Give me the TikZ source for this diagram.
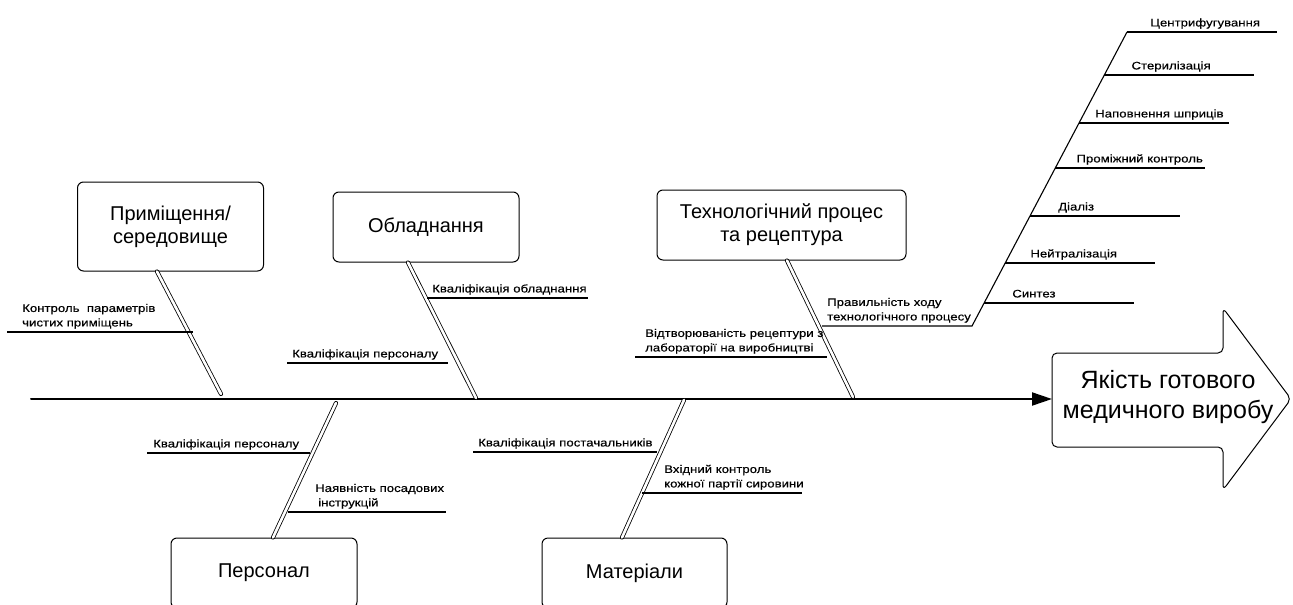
\documentclass[tikz,border=0pt]{standalone}
\usepackage{fontspec}
\setmainfont{Liberation Sans}
\newfontfamily\labfont[FakeStretch=1.2,FakeBold=0.35]{Liberation Sans}
\usetikzlibrary{calc,arrows.meta}
\tikzset{
  cause/.style={draw=black, line width=1pt, rounded corners=6pt, minimum width=186pt, minimum height=70pt, align=center, font=\fontsize{20}{23}\selectfont},
  bone/.style={draw=black, line width=0.8pt, double=white, double distance=2.6pt, line cap=round},
  spine/.style={draw=black, line width=2pt, line cap=round, -{Triangle[length=20pt,width=13pt]}},
  twig/.style={draw=black, line width=1.1pt},
  lab/.style={anchor=south west, inner sep=0pt, align=left, font=\labfont\fontsize{11}{14.5}\selectfont, execute at end node=\strut},
  effect/.style={draw=black, line width=1pt, rounded corners=5pt},
}

\begin{document}
\begin{tikzpicture}[x=1pt, y=-1pt]
  \useasboundingbox (0,0) rectangle (1293,605);
  % causes
  \node[cause, minimum height=89pt] (prim) at (170.5,226.5) {Приміщення/\\середовище};
  \node[cause] (obl) at (426,227) {Обладнання};
  \node[cause, minimum width=249pt] (tech) at (781.5,225) {Технологічний процес\\та рецептура};
  \node[cause] (pers) at (264,573) {Персонал};
  \node[cause, minimum width=185pt] (mat) at (634.5,573) {Матеріали};
  % effect arrow
  \coordinate (tail) at (31,399);
  \coordinate (gin) at (1052,399);
  \draw[effect] (gin) -- (1052,353) -- (1223,353) -- (1223,308) -- (1291,399)
    -- (1223,490) -- (1223,447) -- (1052,447) -- cycle;
  \node[font=\fontsize{25}{30}\selectfont, align=center] (goal) at (1168,397) {Якість готового\\медичного виробу};
  \draw[spine] (tail) -- (gin);
  % bones
  \coordinate (sp1) at (221,394);
  \coordinate (sp2) at (476,398);
  \coordinate (sp3) at (853,397);
  \coordinate (sp4) at (336,403);
  \coordinate (sp5) at (684,400);
  \draw[bone] ([xshift=-13.5]prim.south) -- (sp1);
  \draw[bone] ([xshift=-18]obl.south) -- (sp2);
  \draw[bone] ([xshift=5.5]tech.south) -- (sp3);
  \draw[bone] ([xshift=9]pers.north) -- (sp4);
  \draw[bone] ([xshift=-12.5]mat.north) -- (sp5);
  % sub-causes
  \coordinate (t1) at (7,332);
  \draw[twig] (t1) -- ++(186,0);
  \node[lab] (l1) at ([shift={(15,-1)}]t1) {Контроль\ \ параметрів\\чистих приміщень};
  \coordinate (t2) at (427,298);
  \draw[twig] (t2) -- ++(161,0);
  \node[lab] (l2) at ([shift={(5,-1)}]t2) {Кваліфікація обладнання};
  \coordinate (t3) at (287,363);
  \draw[twig] (t3) -- ++(161,0);
  \node[lab] (l3) at ([shift={(5,-1)}]t3) {Кваліфікація персоналу};
  \coordinate (t4) at (635,357);
  \draw[twig] (t4) -- ++(192,0);
  \node[lab] (l4) at ([shift={(10,-1)}]t4) {Відтворюваність рецептури з\\лабораторії на виробництві};
  \coordinate (t6) at (147,453);
  \draw[twig] (t6) -- ++(163,0);
  \node[lab] (l6) at ([shift={(6,-1)}]t6) {Кваліфікація персоналу};
  \coordinate (t7) at (288,512);
  \draw[twig] (t7) -- ++(158,0);
  \node[lab] (l7) at ([shift={(27,-1)}]t7) {Наявність посадових\\\hspace{3pt}інструкцій};
  \coordinate (t8) at (473,452);
  \draw[twig] (t8) -- ++(184,0);
  \node[lab] (l8) at ([shift={(5,-1)}]t8) {Кваліфікація постачальників};
  \coordinate (t9) at (642,493);
  \draw[twig] (t9) -- ++(160,0);
  \node[lab] (l9) at ([shift={(22,-1)}]t9) {Вхідний контроль\\кожної партії сировини};
  % process steps
  \coordinate (fl1) at (822,326);
  \coordinate (fl2) at (972,326);
  \coordinate (fl3) at (1127,32);
  \draw[twig] (fl1) -- (fl2) -- (fl3);
  \node[lab] (l5) at ([shift={(5,-1)}]fl1) {Правильність ходу\\технологічного процесу};
  \foreach \yy/\o/\t [count=\i] in {303/28/Синтез, 263/25/Нейтралізація, 216/28/Діаліз,
      168/21/Проміжний контроль, 123/16/Наповнення шприців, 75/27/Стерилізація, 32/23/Центрифугування} {
    \coordinate (st\i) at ($(fl2)!{(326-\yy)/294}!(fl3)$);
    \draw[twig] (st\i) -- ++(150,0);
    \node[lab] (sl\i) at ([shift={(\o,-1)}]st\i) {\t};
  }
\end{tikzpicture}
\end{document}
